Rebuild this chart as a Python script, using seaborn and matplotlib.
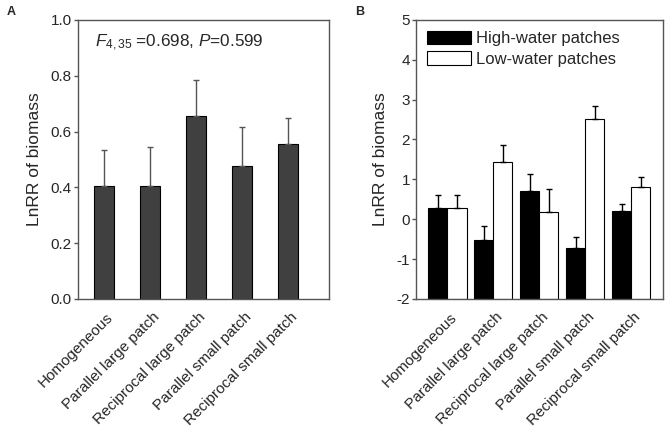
import matplotlib
matplotlib.use("Agg")
import matplotlib.pyplot as plt
import matplotlib.transforms as mtransforms
import seaborn as sns
import pandas as pd

categories = ["Homogeneous", "Parallel large patch", "Reciprocal large patch",
              "Parallel small patch", "Reciprocal small patch"]

# Panel A
a_values = [0.404, 0.406, 0.656, 0.477, 0.554]
a_err = [0.131, 0.140, 0.127, 0.138, 0.096]

# Panel B
series = ["High-water patches", "Low-water patches"]
b_high = [0.28, -0.525, 0.70, -0.71, 0.20]
b_high_err = [0.33, 0.355, 0.43, 0.26, 0.19]
b_low = [0.28, 1.44, 0.19, 2.52, 0.81]
b_low_err = [0.33, 0.41, 0.56, 0.31, 0.25]

sns.set_style("white")
plt.rcParams["font.family"] = ["Liberation Sans", "DejaVu Sans"]
plt.rcParams["axes.unicode_minus"] = False
plt.rcParams["mathtext.fontset"] = "custom"
plt.rcParams["mathtext.rm"] = "Liberation Sans"
plt.rcParams["mathtext.it"] = "Liberation Sans:italic"

fig = plt.figure(figsize=(6.66, 4.32), dpi=100)
axA = fig.add_axes([0.117, 0.308, 0.377, 0.646])
axB = fig.add_axes([0.625, 0.308, 0.371, 0.646])

spine_col = "#555555"

# ---------- Panel A ----------
dfA = pd.DataFrame({"cat": categories, "val": a_values})
sns.barplot(data=dfA, x="cat", y="val", ax=axA, color="#404040",
            edgecolor="black", linewidth=0.8, width=0.42, errorbar=None,
            saturation=1)
for p, e in zip(axA.patches, a_err):
    xc = p.get_x() + p.get_width() / 2
    top = p.get_y() + p.get_height()
    axA.errorbar([xc], [top], yerr=[[0], [e]], fmt="none", ecolor="#555555",
                 elinewidth=1.0, capsize=2.5, capthick=1.0, zorder=1)
axA.set_ylim(0, 1.0)
axA.set_xlim(-0.565, 4.89)
axA.set_yticks([0.0, 0.2, 0.4, 0.6, 0.8, 1.0])
axA.set_yticklabels(["0.0", "0.2", "0.4", "0.6", "0.8", "1.0"])
axA.text(0.068, 0.918, r"$\mathit{F}_{4,35}$ =0.698, $\mathit{P}$=0.599",
         transform=axA.transAxes, fontsize=12.3, va="center", ha="left")

# ---------- Panel B ----------
dfB = pd.DataFrame({
    "cat": categories * 2,
    "val": b_high + b_low,
    "series": [series[0]] * 5 + [series[1]] * 5,
})
sns.barplot(data=dfB, x="cat", y="val", hue="series", ax=axB,
            palette=["black", "white"], edgecolor="black", linewidth=0.8,
            width=0.83, errorbar=None, saturation=1, legend=True)
errs = b_high_err + b_low_err
bars = [p for p in axB.patches if p.get_width() > 0][:10]
for p, e in zip(bars, errs):
    val = p.get_y() + p.get_height()
    # bars are drawn up from the bottom of the axis (-2)
    p.set_y(-2)
    p.set_height(val + 2)
    xc = p.get_x() + p.get_width() / 2
    axB.errorbar([xc], [val], yerr=[[0], [e]], fmt="none", ecolor="black",
                 elinewidth=1.0, capsize=2.5, capthick=1.0, zorder=1)
axB.set_ylim(-2, 5)
axB.set_xlim(-0.68, 4.7)
axB.set_yticks(range(-2, 6))
handles, labels = axB.get_legend_handles_labels()
axB.legend(handles, labels, loc="upper left", frameon=False, fontsize=12,
           handlelength=2.6, handleheight=0.85, handletextpad=0.3,
           labelspacing=0.3, borderaxespad=0.0, borderpad=0.0,
           bbox_to_anchor=(0.045, 0.96))

offset = mtransforms.ScaledTranslation(7 / 100, 0, fig.dpi_scale_trans)
for ax in (axA, axB):
    ax.set_xlabel("")
    ax.set_ylabel("LnRR of biomass", fontsize=12.5, labelpad=6)
    for s in ax.spines.values():
        s.set_color(spine_col)
        s.set_linewidth(1.0)
    ax.tick_params(axis="y", which="both", left=True, direction="out",
                   length=3, width=1.0, color=spine_col, labelsize=11, pad=1.5)
    ax.tick_params(axis="x", bottom=False, labelsize=11, pad=8)
    for lbl in ax.get_xticklabels():
        lbl.set_rotation(45)
        lbl.set_ha("right")
        lbl.set_va("center")
        lbl.set_rotation_mode("anchor")
        lbl.set_transform(lbl.get_transform() + offset)

fig.text(7 / 666, 1 - 12 / 432, "A", fontsize=9, fontweight="bold", ha="left", va="center")
fig.text(355 / 666, 1 - 12 / 432, "B", fontsize=9, fontweight="bold", ha="left", va="center")

fig.savefig("out.png", dpi=100)
